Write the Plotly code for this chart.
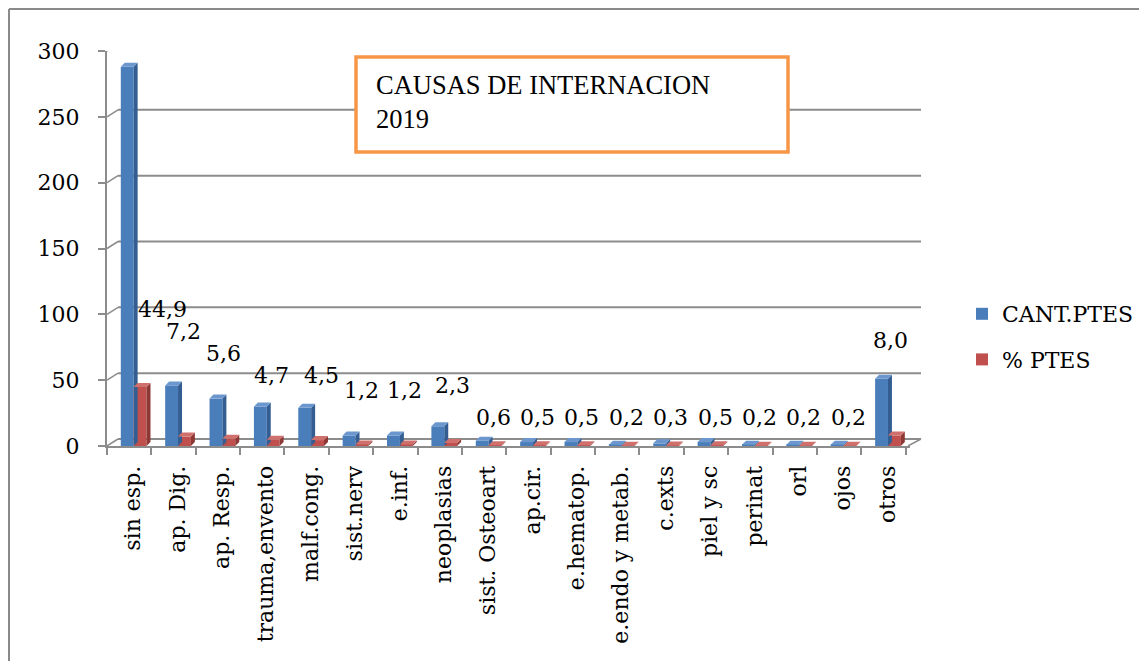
import plotly.graph_objects as go

categories = ["sin esp.", "ap. Dig.", "ap. Resp.", "trauma,envento", "malf.cong.",
              "sist.nerv", "e.inf.", "neoplasias", "sist. Osteoart", "ap.cir.",
              "e.hematop.", "e.endo y metab.", "c.exts", "piel y sc", "perinat",
              "orl", "ojos", "otros"]
cant_ptes = [288, 46, 36, 30, 29, 8, 8, 15, 4, 3, 3, 1, 2, 3, 1, 1, 1, 51]
pct_ptes = [44.9, 7.2, 5.6, 4.7, 4.5, 1.2, 1.2, 2.3, 0.6, 0.5, 0.5, 0.2, 0.3, 0.5, 0.2, 0.2, 0.2, 8.0]
pct_labels = ["44,9", "7,2", "5,6", "4,7", "4,5", "1,2", "1,2", "2,3", "0,6", "0,5",
              "0,5", "0,2", "0,3", "0,5", "0,2", "0,2", "0,2", "8,0"]
y_ticks = [0, 50, 100, 150, 200, 250, 300]

# label placement (text positions, in axis units) and horizontal shifts (px)
label_y = [104, 86.6, 70.6, 53.2, 53.9, 41.8, 41.8, 46.3, 22, 22, 22, 22, 22, 22, 22, 22, 22, 80.5]
label_xshift = [33, 10, 6, 9, 15, 10, 9, 13, 9, 9, 9, 9, 9, 9, 9, 9, 9, 7]

BLUE, BLUE_SIDE, BLUE_TOP = "#4A7EBB", "#345E92", "#6B97CE"
RED, RED_SIDE, RED_TOP = "#C0504D", "#8E3835", "#D0706D"
GRID = "#8C8C8C"
FONT = "DejaVu Serif"

# page geometry (pixels); the page body has an 8px margin
OFF = 8
PAGE_W, PAGE_H = 1147, 661
L, T = 107, 51            # page position of plot area top-left
W, H = 803, 395
FIG_W, FIG_H = PAGE_W - OFF, PAGE_H - OFF
ML, MT = L - OFF, T - OFF
MR = FIG_W - ML - W
MB = FIG_H - MT - H
YMAX = 300
px_per_unit = H / YMAX
cat_w = W / len(categories)
DX_PX, DY_PX = 11, 7          # back-wall depth offset
bw = 0.29                      # bar width in category units
shift = 4.5 / cat_w            # depth shift of the bar row (category units)
sdx = 4 / cat_w                # side face depth (category units)
sdy = 4 / px_per_unit          # top face depth (value units)


def px_x(p):
    return (p - L) / W


def px_y(p):
    return (T + H - p) / H


fig = go.Figure()
fig.add_trace(go.Bar(x=categories, y=cant_ptes, name="CANT.PTES", marker_color=BLUE,
                     marker_line_width=0, legendgroup="a", width=bw, offset=-bw + shift))
fig.add_trace(go.Bar(x=categories, y=pct_ptes, name="% PTES", marker_color=RED,
                     marker_line_width=0, legendgroup="b", width=bw, offset=shift))

shapes = []
# back wall grid lines
for t in y_ticks:
    shapes.append(dict(type="line", xref="paper", yref="y", ysizemode="pixel", yanchor=t,
                       x0=DX_PX / W, x1=1 + DX_PX / W, y0=DY_PX, y1=DY_PX,
                       line=dict(color=GRID, width=2), layer="below"))
    shapes.append(dict(type="line", xref="paper", yref="y", xsizemode="pixel", ysizemode="pixel",
                       xanchor=0, yanchor=t, x0=0, x1=DX_PX, y0=0, y1=DY_PX,
                       line=dict(color=GRID, width=1.5), layer="below"))
# floor right edge
shapes.append(dict(type="line", xref="paper", yref="y", xsizemode="pixel", ysizemode="pixel",
                   xanchor=1, yanchor=0, x0=-2, x1=DX_PX, y0=0, y1=DY_PX,
                   line=dict(color=GRID, width=1.5), layer="below"))

# 3D faces of bars
for i, (vb, vr) in enumerate(zip(cant_ptes, pct_ptes)):
    for (xl, xr, v, side, top) in [(i - bw + shift, i + shift, vb, BLUE_SIDE, BLUE_TOP),
                                    (i + shift, i + bw + shift, vr, RED_SIDE, RED_TOP)]:
        shapes.append(dict(type="path", xref="x", yref="y", line_width=0, fillcolor=side,
                           path=f"M {xr},0 L {xr},{v} L {xr + sdx},{v + sdy} L {xr + sdx},{sdy} Z"))
        shapes.append(dict(type="path", xref="x", yref="y", line_width=0, fillcolor=top,
                           path=f"M {xl},{v} L {xr},{v} L {xr + sdx},{v + sdy} L {xl + sdx},{v + sdy} Z"))

# outer frame (top and left)
shapes.append(dict(type="line", xref="paper", yref="paper", x0=px_x(9), x1=px_x(PAGE_W),
                   y0=px_y(9), y1=px_y(9), line=dict(color="#8A8A8A", width=2)))
shapes.append(dict(type="line", xref="paper", yref="paper", x0=px_x(9), x1=px_x(9),
                   y0=px_y(9), y1=px_y(PAGE_H), line=dict(color="#8A8A8A", width=2)))
# title box
shapes.append(dict(type="rect", xref="paper", yref="paper", x0=px_x(356), x1=px_x(788),
                   y0=px_y(152), y1=px_y(57), line=dict(color="#F79646", width=3.5),
                   fillcolor="white"))

annotations = [dict(xref="paper", yref="paper", x=px_x(374), y=px_y(68), xanchor="left",
                    yanchor="top", align="left", showarrow=False,
                    text="CAUSAS DE INTERNACION<br>2019",
                    font=dict(family="Liberation Serif", size=26.5, color="black"))]
for c, lab, ly, xs in zip(categories, pct_labels, label_y, label_xshift):
    annotations.append(dict(x=c, y=ly, xref="x", yref="y", text=lab, showarrow=False,
                            xshift=xs, font=dict(family=FONT, size=22, color="black")))

fig.update_layout(
    width=FIG_W, height=FIG_H,
    margin=dict(l=ML, r=MR, t=MT, b=MB, autoexpand=False),
    paper_bgcolor="white", plot_bgcolor="rgba(0,0,0,0)",
    barmode="overlay",
    showlegend=True,
    legend=dict(x=px_x(962), y=px_y(337), xanchor="left", yanchor="middle",
                font=dict(family=FONT, size=22, color="black"),
                traceorder="grouped", tracegroupgap=14, itemwidth=30),
    shapes=shapes, annotations=annotations,
    font=dict(family=FONT, color="black"),
)
fig.update_xaxes(type="category", showgrid=False, showline=True, linecolor=GRID, linewidth=2,
                 ticks="outside", tickson="boundaries", ticklen=7, tickcolor=GRID, tickwidth=1.5,
                 tickangle=-90, ticklabelstandoff=9, ticklabelshift=4,
                 tickfont=dict(family=FONT, size=22, color="black"))
fig.update_yaxes(range=[0, YMAX], tickvals=y_ticks, showgrid=False, zeroline=False,
                 showline=True, linecolor=GRID, linewidth=2, ticks="outside", ticklen=7,
                 tickcolor=GRID, tickwidth=1.5, ticklabelstandoff=14,
                 tickfont=dict(family=FONT, size=22, color="black"))

fig.write_html("out.html")
